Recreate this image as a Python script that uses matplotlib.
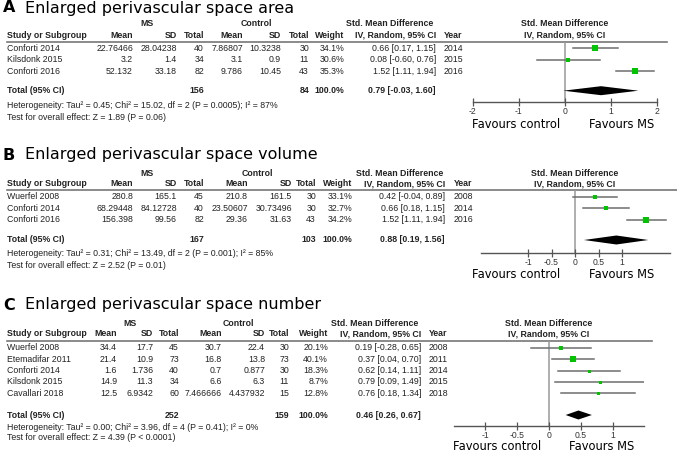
import matplotlib.pyplot as plt

plt.rcParams['axes.unicode_minus'] = False
TAB = 'Liberation Sans'

# Panel A data
a_title = 'Enlarged perivascular space area'
a_study = ['Conforti 2014', 'Kilsdonk 2015', 'Conforti 2016']
a_ms_mean = ['22.76466', '3.2', '52.132']
a_ms_sd = ['28.04238', '1.4', '33.18']
a_ms_n = [40, 34, 82]
a_ct_mean = ['7.86807', '3.1', '9.786']
a_ct_sd = ['10.3238', '0.9', '10.45']
a_ct_n = [30, 11, 43]
a_weight = [34.1, 30.6, 35.3]
a_smd = [0.66, 0.08, 1.52]
a_lo = [0.17, -0.60, 1.11]
a_hi = [1.15, 0.76, 1.94]
a_year = [2014, 2015, 2016]
a_total = [0.79, -0.03, 1.60]
a_het = 'Heterogeneity: Tau² = 0.45; Chi² = 15.02, df = 2 (P = 0.0005); I² = 87%'
a_test = 'Test for overall effect: Z = 1.89 (P = 0.06)'
a_ticks = [-2, -1, 0, 1, 2]

# Panel B data
b_title = 'Enlarged perivascular space volume'
b_study = ['Wuerfel 2008', 'Conforti 2014', 'Conforti 2016']
b_ms_mean = ['280.8', '68.29448', '156.398']
b_ms_sd = ['165.1', '84.12728', '99.56']
b_ms_n = [45, 40, 82]
b_ct_mean = ['210.8', '23.50607', '29.36']
b_ct_sd = ['161.5', '30.73496', '31.63']
b_ct_n = [30, 30, 43]
b_weight = [33.1, 32.7, 34.2]
b_smd = [0.42, 0.66, 1.52]
b_lo = [-0.04, 0.18, 1.11]
b_hi = [0.89, 1.15, 1.94]
b_year = [2008, 2014, 2016]
b_total = [0.88, 0.19, 1.56]
b_het = 'Heterogeneity: Tau² = 0.31; Chi² = 13.49, df = 2 (P = 0.001); I² = 85%'
b_test = 'Test for overall effect: Z = 2.52 (P = 0.01)'
b_ticks = [-1, -0.5, 0, 0.5, 1]

# Panel C data
c_title = 'Enlarged perivascular space number'
c_study = ['Wuerfel 2008', 'Etemadifar 2011', 'Conforti 2014', 'Kilsdonk 2015', 'Cavallari 2018']
c_ms_mean = ['34.4', '21.4', '1.6', '14.9', '12.5']
c_ms_sd = ['17.7', '10.9', '1.736', '11.3', '6.9342']
c_ms_n = [45, 73, 40, 34, 60]
c_ct_mean = ['30.7', '16.8', '0.7', '6.6', '7.466666']
c_ct_sd = ['22.4', '13.8', '0.877', '6.3', '4.437932']
c_ct_n = [30, 73, 30, 11, 15]
c_weight = [20.1, 40.1, 18.3, 8.7, 12.8]
c_smd = [0.19, 0.37, 0.62, 0.79, 0.76]
c_lo = [-0.28, 0.04, 0.14, 0.09, 0.18]
c_hi = [0.65, 0.70, 1.11, 1.49, 1.34]
c_year = [2008, 2011, 2014, 2015, 2018]
c_total = [0.46, 0.26, 0.67]
c_het = 'Heterogeneity: Tau² = 0.00; Chi² = 3.96, df = 4 (P = 0.41); I² = 0%'
c_test = 'Test for overall effect: Z = 4.39 (P < 0.0001)'
c_ticks = [-1, -0.5, 0, 0.5, 1]

W, H = 677, 454
fig = plt.figure(figsize=(W / 100, H / 100), dpi=100)
bg = fig.add_axes([0, 0, 1, 1])
bg.set_xlim(0, W)
bg.set_ylim(H, 0)
bg.axis('off')


def draw_panel(letter, title, study, ms_mean, ms_sd, ms_n, ct_mean, ct_sd, ct_n,
               weight, smd, lo, hi, year, total, het, test, ticks, lay):
    # title
    bg.text(3, lay['title'], letter, fontsize=11.5, fontweight='bold', va='center')
    bg.text(25, lay['title'], title, fontsize=11.5, va='center')

    cols = lay['cols']  # right edges: mean, sd, total, mean, sd, total, weight, ci
    fs = 6.3
    kw = dict(fontsize=fs, family=TAB, va='center', color='#222222')
    hb = dict(kw, fontweight='bold')
    bg.text(lay['ms_c'], lay['grp'], 'MS', ha='center', **hb)
    bg.text(lay['ct_c'], lay['grp'], 'Control', ha='center', **hb)
    bg.text(lay['smd_c'], lay['grp'], 'Std. Mean Difference', ha='center', **hb)
    bg.text(lay['zero_px'], lay['grp'], 'Std. Mean Difference', ha='center', **hb)
    bg.text(lay['zero_px'], lay['head'], 'IV, Random, 95% CI', ha='center', **hb)
    bg.text(7, lay['head'], 'Study or Subgroup', ha='left', **hb)
    heads = ['Mean', 'SD', 'Total', 'Mean', 'SD', 'Total', 'Weight', 'IV, Random, 95% CI']
    for h, x in zip(heads, cols):
        bg.text(x, lay['head'], h, ha='right', **hb)
    bg.text(lay['year_x'], lay['head'], 'Year', ha='left', **hb)
    bg.plot([7, lay['line_end']], [lay['line']] * 2, color='#777777', lw=1.2)

    rows = [lay['row0'] + i * lay['step'] for i in range(len(study))]
    for i, y in enumerate(rows):
        vals = [ms_mean[i], ms_sd[i], str(ms_n[i]), ct_mean[i], ct_sd[i], str(ct_n[i]),
                f'{weight[i]:.1f}%', f'{smd[i]:.2f} [{lo[i]:.2f}, {hi[i]:.2f}]']
        bg.text(7, y, study[i], ha='left', **kw)
        for v, x in zip(vals, cols):
            bg.text(x, y, v, ha='right', **kw)
        bg.text(lay['year_x'], y, str(year[i]), ha='left', **kw)

    ty = lay['total']
    bg.text(7, ty, 'Total (95% CI)', ha='left', **hb)
    bg.text(cols[2], ty, str(sum(ms_n)), ha='right', **hb)
    bg.text(cols[5], ty, str(sum(ct_n)), ha='right', **hb)
    bg.text(cols[6], ty, f'{sum(weight):.1f}%', ha='right', **hb)
    bg.text(cols[7], ty, f'{total[0]:.2f} [{total[1]:.2f}, {total[2]:.2f}]', ha='right', **hb)
    bg.text(7, lay['het'], het, ha='left', **kw)
    bg.text(7, lay['test'], test, ha='left', **kw)

    # forest plot axes, x in SMD units, y in pixel rows
    x0, x1 = lay['xlim']
    left = lay['zero_px'] + x0 * lay['ppu']
    right = lay['zero_px'] + x1 * lay['ppu']
    ax = fig.add_axes([left / W, 1 - lay['axis'] / H, (right - left) / W,
                       (lay['axis'] - lay['line']) / H])
    ax.set_xlim(x0, x1)
    ax.set_ylim(lay['axis'], lay['line'])
    ax.patch.set_alpha(0)
    for s in ['top', 'left', 'right']:
        ax.spines[s].set_visible(False)
    ax.spines['bottom'].set_color('#555555')
    ax.spines['bottom'].set_linewidth(1.0)
    ax.set_yticks([])
    ax.set_xticks(ticks)
    ax.set_xticklabels([f'{t:g}' for t in ticks], fontsize=6.2, family=TAB, color='#333333')
    ax.tick_params(axis='x', direction='inout', length=6, width=0.9, color='#555555', pad=0.5)
    ax.axvline(0, color='#999999', lw=1.1, zorder=1)

    for i, y in enumerate(rows):
        ax.plot([lo[i], hi[i]], [y, y], color='#6e6e6e', lw=1.1, zorder=2)
        ms = max(weight[i] * 0.15, 3.0) * 0.72
        ax.plot(smd[i], y, marker='s', ms=ms, color='#00c400', mew=0, zorder=3)
    dh = 4.5
    ax.fill([total[1], total[0], total[2], total[0]], [ty, ty - dh, ty, ty + dh],
            color='black', lw=0, zorder=3)

    bg.text(lay['fav_c'], lay['fav'], 'Favours control', ha='center', va='center', fontsize=8.3)
    bg.text(lay['fav_m'], lay['fav'], 'Favours MS', ha='center', va='center', fontsize=8.3)


lay_a = dict(title=8, grp=24, head=35, line=42, row0=48.4, step=11.35, total=90.7,
             het=105.7, test=117.3, axis=102, fav=124,
             cols=[133, 177, 204, 243, 281, 309, 344, 436], year_x=444,
             ms_c=147, ct_c=256, smd_c=390, zero_px=564.7, ppu=46, xlim=(-2, 2),
             line_end=667, fav_c=516.5, fav_m=621.5)
lay_b = dict(title=155, grp=173, head=184, line=190, row0=196.7, step=11.65, total=240,
             het=253, test=266, axis=252.7, fav=274,
             cols=[133, 177, 204, 248, 292, 316, 352, 445], year_x=454,
             ms_c=147, ct_c=257, smd_c=400, zero_px=575, ppu=47, xlim=(-2.0, 2.02),
             line_end=677, fav_c=516.5, fav_m=621.5)
lay_c = dict(title=305, grp=323, head=334, line=341, row0=348, step=11.25, total=415,
             het=427, test=438, axis=426, fav=447,
             cols=[117, 153, 179, 222, 265, 289, 328, 421], year_x=429,
             ms_c=130, ct_c=238, smd_c=375, zero_px=549, ppu=64, xlim=(-1.48, 1.48),
             line_end=652, fav_c=497.5, fav_m=601.5)

draw_panel('A', a_title, a_study, a_ms_mean, a_ms_sd, a_ms_n, a_ct_mean, a_ct_sd, a_ct_n,
           a_weight, a_smd, a_lo, a_hi, a_year, a_total, a_het, a_test, a_ticks, lay_a)
draw_panel('B', b_title, b_study, b_ms_mean, b_ms_sd, b_ms_n, b_ct_mean, b_ct_sd, b_ct_n,
           b_weight, b_smd, b_lo, b_hi, b_year, b_total, b_het, b_test, b_ticks, lay_b)
draw_panel('C', c_title, c_study, c_ms_mean, c_ms_sd, c_ms_n, c_ct_mean, c_ct_sd, c_ct_n,
           c_weight, c_smd, c_lo, c_hi, c_year, c_total, c_het, c_test, c_ticks, lay_c)

fig.savefig('out.png', dpi=100)
